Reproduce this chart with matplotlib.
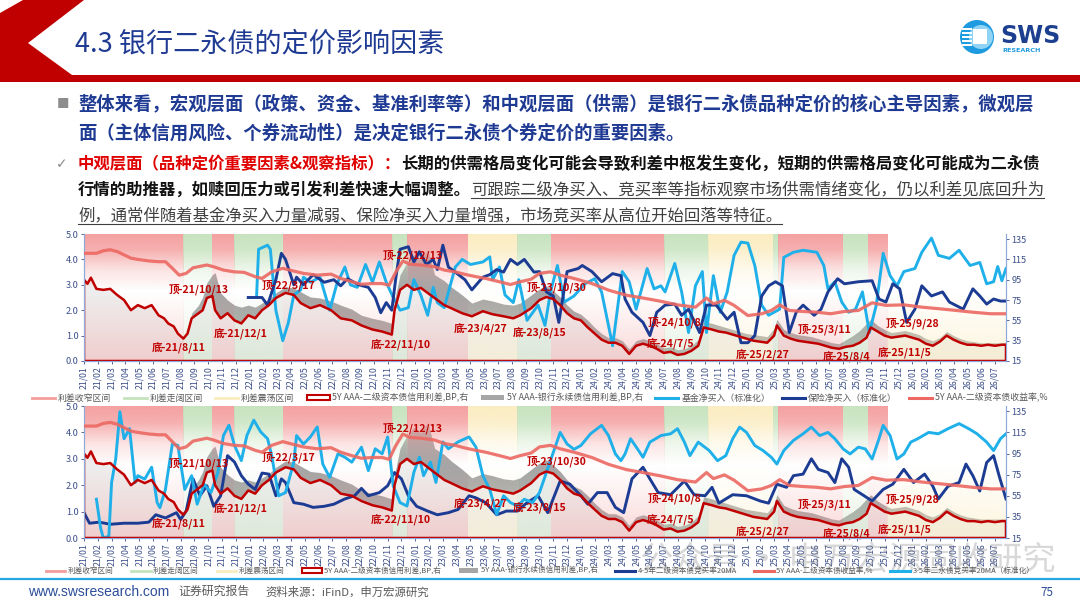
import numpy as np
import matplotlib
matplotlib.use("Agg")
import matplotlib.pyplot as plt
from matplotlib.patches import Polygon, Patch, Circle, Rectangle
from matplotlib.lines import Line2D
from matplotlib.colors import to_rgb

plt.rcParams['font.family'] = ['Noto Sans CJK SC', 'DejaVu Sans']

# ---------------- data (x = months since 2021-01) ----------------
month_labels = [f"{y}/{m:02d}" for y in range(21, 27) for m in range(1, 13)][:67]

# 5Y AAA 二级资本债收益率, %
yield_m = [0, 0.9, 1.4, 1.9, 2.4, 2.9, 3.4, 3.9, 4.7, 5.4, 5.9, 6.4, 6.9, 7.4, 7.9, 8.9, 9.4, 10.1, 10.9, 11.6,
           12.4, 12.9, 13.6, 14.4, 15.2, 15.9, 16.9, 17.9, 18.6, 19.4, 20.1, 20.9, 21.6, 22.1, 22.6, 23.1, 23.6,
           24.4, 25.4, 26.1, 26.9, 27.6, 28.4, 29.1, 30.1, 30.9, 31.6, 32.4, 33.0, 33.8, 34.5, 35.5, 36.8, 38.0,
           39.3, 40.5, 41.8, 43.0, 44.3, 45.1, 45.6, 46.4, 47.1, 48.1, 49.1, 49.8, 50.4, 51.1, 52.1, 53.1, 54.1,
           55.1, 56.1, 57.1, 58.1, 59.4, 60.7, 61.9, 63.2, 64.4, 65.7, 66.8]
yield_v = [4.24, 4.24, 4.34, 4.38, 4.31, 4.18, 4.05, 4.0, 3.94, 3.91, 3.91, 3.65, 3.38, 3.45, 3.67, 3.78, 3.71,
           3.58, 3.51, 3.49, 3.32, 3.25, 3.51, 3.65, 3.54, 3.45, 3.38, 3.42, 3.25, 3.12, 3.02, 3.05, 3.05, 2.98,
           3.51, 3.94, 3.81, 3.78, 3.71, 3.58, 3.51, 3.41, 3.32, 3.25, 3.12, 3.01, 3.12, 3.22, 3.45, 3.51, 3.38,
           3.25, 3.05, 2.79, 2.59, 2.48, 2.35, 2.21, 2.12, 2.48, 2.25, 2.39, 2.19, 1.79, 1.86, 1.99, 2.21, 1.99,
           1.95, 1.92, 1.86, 1.95, 1.99, 2.29, 2.19, 2.21, 2.12, 2.06, 1.99, 1.92, 1.86, 1.86]

# credit spreads, BP (right axis)
spread_m = [0, 0.25, 0.5, 0.9, 1.4, 1.9, 2.4, 2.9, 3.4, 3.9, 4.4, 4.9, 5.4, 5.8, 6.1, 6.5, 6.8, 7.2, 7.5, 7.8,
            8.3, 8.6, 8.9, 9.3, 9.5, 9.9, 10.4, 10.9, 11.4, 11.9, 12.4, 12.9, 13.4, 13.9, 14.6, 15.2, 15.7, 16.4,
            17.1, 17.9, 18.6, 19.4, 20.1, 20.9, 21.6, 22.3, 22.5, 22.9, 23.4, 23.9, 24.4, 24.9, 25.4, 26.1, 26.6,
            27.4, 28.1, 28.9, 29.6, 30.4, 31.1, 31.6, 32.4, 33.0, 33.5, 34.0, 34.5, 35.0, 35.5, 36.0, 36.5, 37.0,
            37.5, 38.0, 38.5, 39.0, 39.5, 40.0, 40.5, 41.0, 41.5, 42.0, 42.5, 43.0, 43.5, 44.0, 44.5, 44.9, 45.5,
            46.0, 46.5, 47.0, 47.5, 48.0, 48.5, 49.0, 49.5, 50.0, 50.2, 50.7, 51.2, 51.7, 52.2, 52.7, 53.2, 53.7,
            54.2, 54.7, 55.2, 55.7, 56.2, 56.7, 57.0, 57.5, 58.0, 58.5, 59.0, 59.5, 60.0, 60.5, 61.0, 61.5, 62.0,
            62.5, 63.0, 63.5, 64.0, 64.5, 65.0, 65.5, 66.0, 66.5, 66.8]
tier2_bp = [95, 91, 97, 86, 85, 86, 80, 75, 65, 70, 67, 70, 60, 57, 52, 49, 42, 37, 42, 57,
            62, 65, 77, 79, 65, 57, 62, 55, 52, 60, 57, 65, 70, 77, 82, 80, 72, 67, 70, 65,
            57, 55, 50, 46, 44, 41, 65, 85, 90, 85, 87, 82, 77, 70, 67, 62, 59, 64, 61, 59,
            57, 60, 67, 75, 78, 76, 70, 62, 57, 55, 48, 42, 36, 33, 33, 30, 22, 30, 32, 30,
            27, 23, 24, 21, 22, 25, 30, 48, 46, 44, 43, 41, 39, 37, 35, 34, 33, 40, 50, 40,
            37, 35, 34, 33, 32, 30, 28, 27, 29, 30, 33, 38, 48, 44, 40, 38, 39, 40, 38, 36,
            32, 30, 34, 40, 36, 33, 31, 31, 30, 31, 30, 31, 31]
perp_bp = [95, 91, 97, 86, 85, 86, 80, 75, 65, 70, 67, 70, 60, 57, 52, 49, 42, 37, 42, 62,
           70, 78, 92, 100, 102, 82, 75, 70, 68, 70, 68, 72, 76, 82, 88, 87, 83, 78, 77, 74,
           70, 66, 60, 57, 55, 52, 75, 100, 112, 120, 115, 125, 100, 94, 88, 80, 72, 76, 74, 71,
           70, 72, 80, 86, 89, 84, 78, 70, 64, 61, 55, 48, 42, 38, 38, 35, 27, 35, 37, 35,
           32, 28, 29, 26, 27, 30, 36, 54, 52, 50, 48, 46, 44, 42, 41, 40, 39, 47, 56, 46,
           43, 41, 40, 39, 37, 35, 33, 32, 36, 40, 45, 52, 56, 50, 46, 43, 44, 45, 43, 41,
           37, 35, 38, 44, 40, 37, 35, 34, 33, 33, 33, 33, 33]

# top chart: 基金净买入 / 保险净买入 (标准化)
fund_m = [12.5, 12.65, 13.3, 13.5, 13.9, 14.4, 14.8, 15.2, 15.7, 15.9, 16.4, 17.1, 17.8, 18.3, 18.9, 19.3,
          19.8, 20.4, 20.9, 21.4, 21.9, 22.4, 22.9, 23.5, 23.9, 24.4, 24.9, 25.3, 25.6, 26.1, 26.9, 27.4,
          28.0, 28.9, 29.4, 29.6, 30.1, 30.5, 31.1, 31.5, 32.1, 32.9,
          33.4, 33.8, 34.3, 34.8, 35.5, 36.3, 37.0, 37.5, 38.3, 39.0, 39.5, 40.0, 40.8, 41.3, 41.8, 42.1,
          42.8, 43.3, 43.8, 44.3, 44.8, 45.1, 45.6, 46.1, 46.6, 47.1, 47.6, 48.1, 48.6, 49.1, 49.6, 50.4,
          50.7, 51.4, 52.1, 53.1, 53.6, 53.9, 54.4, 54.9, 55.4, 55.9, 56.4, 56.9, 57.4, 57.9, 58.4, 58.9,
          59.4, 60.2, 60.7, 61.4, 61.9, 62.7, 63.4, 64.2, 64.9, 65.4, 65.9, 66.2, 66.5, 66.8]
fund_v = [77.5, 125, 129, 125, 65, 35, 52.5, 80, 85, 97.5, 92.5, 97.5, 65, 90, 107.5, 90,
          87.5, 110, 92.5, 112.5, 92.5, 77.5, 65, 67.5, 95, 80, 60, 87.5, 72.5, 67.5, 107.5, 115,
          110, 112.5, 117.5, 95, 107.5, 80, 72.5, 95, 55, 70,
          50, 83, 109, 73, 79, 91, 96, 83, 30, 103, 93, 66, 106, 86, 89, 83,
          111, 83, 43, 89, 103, 43, 99, 63, 83, 119, 132, 131, 109, 70, 60, 66,
          117, 122, 124, 122, 109, 86, 93, 73, 63, 66, 83, 43, 70, 121, 99, 89,
          103, 106, 122, 136, 119, 116, 124, 109, 112, 91, 93, 108, 94, 106]
ins_m = [11.9, 12.9, 13.3, 13.9, 14.3, 14.6, 15.2, 15.4, 15.9, 16.6, 17.4, 18.1, 18.6, 19.1, 19.9, 20.6,
         21.1, 21.5, 21.9, 22.3, 22.6, 22.9, 23.5, 23.9, 24.3, 24.8, 25.3, 25.6, 26.0, 26.4, 26.9, 27.6,
         28.1, 28.9, 29.4, 29.9, 30.4, 30.9, 31.4, 31.9, 32.6,
         33.0, 33.5, 34.0, 34.4, 35.0, 35.8, 36.1, 36.8, 37.5, 38.3, 38.9, 39.2, 39.7, 40.5, 41.0, 41.5,
         42.1, 42.8, 43.3, 43.8, 44.6, 45.1, 45.8, 46.6, 47.1, 47.6, 48.1, 48.6, 49.1, 49.6, 50.1, 50.6,
         51.1, 51.6, 52.1, 52.9, 53.4, 53.9, 54.6, 55.1, 56.1, 57.1, 57.6, 58.1, 58.6, 59.1, 59.6, 60.2,
         60.7, 61.4, 62.2, 62.7, 63.7, 64.4, 64.9, 65.4, 65.9, 66.4, 66.8]
ins_v = [77.5, 77.5, 70, 95, 121, 115, 90, 97.5, 90, 100, 92.5, 95, 89, 96, 90, 87.5,
         77.5, 62.5, 72.5, 65, 97.5, 125, 127.5, 112.5, 122.5, 110, 115, 105, 129, 107.5, 102.5, 95,
         85, 97.5, 100, 105, 102.5, 115, 110, 115, 102.5,
         103, 83, 79, 53, 103, 106, 109, 103, 93, 101, 99, 76, 63, 53, 40, 63,
         70, 71, 60, 66, 43, 70, 70, 56, 63, 33, 33, 40, 79, 89, 93, 89,
         43, 63, 70, 60, 66, 83, 96, 91, 93, 94, 76, 73, 91, 86, 53, 66,
         89, 79, 83, 73, 66, 86, 79, 71, 76, 74, 74]

# bottom chart: 竞买率 20MA
bid45_m = [0.0, 0.4, 1.1, 1.9, 2.9, 3.9, 4.7, 5.2, 5.9, 6.7, 7.0, 7.4, 7.9, 8.4, 8.9, 9.4, 9.9, 10.4,
           10.9, 11.4, 11.9, 12.4, 12.9, 13.4, 13.9, 14.3, 14.6, 15.2, 15.9, 16.6, 17.4, 18.1, 18.9, 19.6,
           20.1, 20.6, 21.4, 22.0, 22.5, 23.0, 23.5, 24.1, 24.9, 25.6, 26.4, 27.1, 27.9, 28.4, 29.1, 29.9,
           30.6, 31.4, 32.1, 32.9,
           33.6, 34.5, 35.2, 36.0, 36.5, 37.2, 37.9, 38.5, 39.1, 39.7, 40.5, 41.0, 41.6, 42.5, 43.5, 44.2,
           45.0, 45.5, 46.0, 47.0, 48.0, 49.0, 49.6, 50.2, 50.9, 51.4, 52.1, 52.7, 53.2, 53.9, 54.4, 54.9,
           55.4, 55.8, 56.4, 57.1, 57.9, 58.6, 59.4, 60.1, 60.9, 61.5, 61.9, 62.6, 63.4, 63.9, 64.4, 64.9,
           65.4, 65.9, 66.3, 66.8]
bid45_v = [39, 29, 30, 28, 29, 29, 30, 37, 34, 39, 32.5, 40.5, 71, 55, 64.5, 45, 55, 93,
           87, 74, 66, 61, 76.5, 75.5, 55, 71, 67.5, 48.5, 47, 44, 45, 47, 52, 55,
           62, 55, 58, 64.5, 77, 71, 55, 45, 40.5, 37, 39, 42, 55, 53, 48.5, 37,
           40.5, 40.5, 48.5, 55,
           39, 69, 66, 55, 47, 58, 58, 44, 39, 71, 82, 71, 58, 56, 69, 56,
           55, 63, 48, 56, 55, 50, 48, 66, 63, 74, 75.5, 90, 80, 77, 67.5, 90,
           82, 61, 56, 50, 61, 66, 80, 67.5, 75.5, 64, 52, 64, 67.5, 85, 74, 59.5,
           86.5, 93, 74, 52]
bid35_m = [0.9, 1.2, 1.4, 1.8, 2.0, 2.3, 2.6, 2.9, 3.3, 3.7, 3.9, 4.4, 4.9, 5.3, 5.5, 5.9, 6.4, 6.8,
           7.3, 7.8, 8.2, 8.7, 9.2, 9.7, 10.1, 10.5, 10.9, 11.4, 11.8, 12.3, 12.8, 13.3, 13.6, 14.1, 14.6,
           15.2, 15.4, 15.9, 16.4, 16.9, 17.3, 17.8, 18.4, 18.9, 19.4, 20.1, 20.6, 21.1, 21.6, 22.0, 22.4,
           22.9, 23.4, 23.9, 24.3, 24.6, 25.1, 25.5, 26.0, 26.4, 27.1, 27.9, 28.4, 28.9, 29.4, 29.9, 30.4,
           30.9, 31.4, 31.9, 32.5, 33.0,
           33.5, 34.0, 34.5, 35.0, 35.5, 36.0, 36.7, 37.5, 38.0, 38.5, 38.9, 39.2, 39.6, 40.1, 40.5, 41.0,
           41.8, 42.5, 43.0, 43.5, 43.9, 44.5, 45.3, 45.9, 46.5, 47.0, 47.5, 48.0, 48.6, 49.2, 49.8, 50.2,
           50.7, 51.4, 52.1, 52.7, 53.3, 53.9, 54.4, 55.0, 55.5, 56.1, 56.6, 57.1, 57.6, 57.9, 58.4, 58.9,
           59.4, 59.9, 60.4, 61.2, 61.9, 62.6, 63.4, 64.1, 64.7, 65.4, 65.9, 66.4, 66.8]
bid35_v = [51.7, 24.6, 15, 16.6, 67.6, 90, 134.6, 109, 118.6, 67.6, 74, 70.8, 82, 48.5, 43.7, 61, 104, 102.7,
           61, 74, 47, 66, 58, 77, 112, 121.8, 102.7, 88.3, 112, 126.6, 115.5, 109, 93, 55, 58,
           86.8, 112, 104, 110.7, 120.2, 85, 72.4, 94.7, 91.5, 86.8, 101, 78.8, 99.5, 94.7, 110.7, 64.5,
           48.5, 45.3, 77.2, 91.5, 74, 86.8, 67.6, 106, 99.5, 106, 110.7, 101, 74, 61, 37.3, 55,
           48.5, 45.3, 51.7, 48.5, 58,
           77, 96, 115, 104, 99, 102.6, 113.7, 121.7, 112, 94.6, 88.2, 94.6, 109, 99.4, 91.4, 105.8,
           112, 113.7, 118.5, 105.8, 93, 105.8, 97.8, 88.2, 93, 109, 120, 115, 102.6, 97.8, 91.4, 85,
           97.8, 107.4, 113.7, 120, 112, 115, 109, 99.4, 94.6, 101, 99.4, 89.8, 109, 121.7, 112, 89.8,
           94.6, 105.8, 109, 115, 113.7, 118.5, 123.3, 118.5, 113.7, 105.8, 97.8, 109, 113.7]

# spread regimes: 收窄 / 走阔 / 震荡
band_start = [0, 7.2, 9.3, 10.9, 14.4, 22.3, 23.4, 27.8, 31.4, 33.8, 42.0, 45.2, 49.9, 50.3, 55.0, 56.8, 58.2]
band_end = [7.2, 9.3, 10.9, 14.4, 22.3, 23.4, 27.8, 31.4, 33.8, 42.0, 45.2, 49.9, 50.3, 55.0, 56.8, 58.2, 66.8]
band_kind = ['narrow', 'widen', 'narrow', 'widen', 'narrow', 'widen', 'narrow', 'range', 'widen',
             'narrow', 'widen', 'range', 'widen', 'narrow', 'widen', 'narrow', 'range_low']

top_notes = [("顶-21/10/13", 6.15, 85.5), ("底-21/8/11", 4.9, 27.6), ("底-21/12/1", 9.4, 41),
             ("顶-22/3/17", 12.9, 90), ("底-22/11/10", 20.8, 30.6), ("顶-22/12/13", 21.6, 119),
             ("底-23/4/27", 26.8, 46), ("底-23/8/15", 31.1, 42.5), ("顶-23/10/30", 32.1, 88),
             ("顶-24/10/8", 40.8, 53), ("底-24/7/5", 40.8, 31.6), ("底-25/2/27", 47.2, 20.6),
             ("顶-25/3/11", 51.7, 46.5), ("底-25/8/4", 53.5, 19), ("顶-25/9/28", 58.1, 52),
             ("底-25/11/5", 57.5, 22.3)]
bot_notes = [("顶-21/10/13", 6.15, 85.8), ("底-21/8/11", 4.9, 28.4), ("底-21/12/1", 9.4, 42),
             ("顶-22/3/17", 12.9, 91), ("底-22/11/10", 20.8, 31.6), ("顶-22/12/13", 21.6, 118.6),
             ("底-23/4/27", 26.8, 47), ("底-23/8/15", 31.1, 43), ("顶-23/10/30", 32.1, 88),
             ("顶-24/10/8", 40.8, 53), ("底-24/7/5", 40.8, 31.6), ("底-25/2/27", 47.2, 20.6),
             ("顶-25/3/11", 51.7, 46.5), ("底-25/8/4", 53.5, 19), ("顶-25/9/28", 58.1, 52),
             ("底-25/11/5", 57.5, 22.3)]

# ---------------- styles ----------------
C_PINK, C_GREEN, C_YELLOW = '#f49c9c', '#c4e2bb', '#fbecbf'
C_RED, C_GRAY = '#c00000', '#a6a6a6'
C_LBLUE, C_DBLUE, C_YIELD = '#1fb0ea', '#1c3c94', '#ec6862'
C_TICK = '#3c4f8a'
band_style = {'narrow': (C_PINK, 0.95, 0.40), 'widen': (C_GREEN, 0.95, 0.40),
              'range': (C_YELLOW, 0.95, 0.45), 'range_low': (C_YELLOW, 0.0, 0.55)}

W, H = 1080, 608
fig = plt.figure(figsize=(10.8, 6.08), dpi=100)
bg = fig.add_axes([0, 0, 1, 1])
bg.set_xlim(0, W)
bg.set_ylim(H, 0)
bg.axis('off')

# header
bg.add_patch(Polygon([(23, 0), (84, 0), (28, 43), (72, 75), (W, 75), (W, 82), (0, 82), (0, 13)],
                     closed=True, color=C_RED, lw=0))
bg.text(75, 44, "4.3 银行二永债的定价影响因素", fontsize=19.5, fontweight='medium', color='#1f3a93',
        va='center', ha='left')
bg.add_patch(Circle((977, 37), 17, color='#1e9be0', lw=0))
bg.add_patch(Circle((981, 37), 12, color='#8fd3f5', lw=0))
bg.add_patch(Rectangle((973, 29), 14, 15, color='white', lw=0))
for k in range(5):
    bg.add_patch(Rectangle((962, 28 + k * 4), 10, 1.6, color='white', lw=0))
bg.text(1000, 36, "SWS", fontsize=17, fontweight='bold', color='#1d3f8f', va='center', ha='left',
        family='DejaVu Sans')
bg.text(1002, 51, "RESEARCH", fontsize=4.6, fontweight='bold', color='#1e9be0', va='center', ha='left',
        family='DejaVu Sans')


def chain(parts, x, y, size):
    out = []
    prev = None
    for s, color, weight in parts:
        if prev is None:
            t = bg.text(x, y, s, color=color, fontsize=size, fontweight=weight, va='center', ha='left')
        else:
            t = bg.annotate(s, xy=(1, 0.5), xycoords=prev, color=color, fontsize=size,
                            fontweight=weight, va='center', ha='left')
        out.append(t)
        prev = t
    return out


BLUE_TXT = '#1f3a93'
bg.text(57, 104, "■", fontsize=9, color='#8c8c8c', va='center', ha='left')
chain([("整体来看，宏观层面（政策、资金、基准利率等）和中观层面（供需）是银行二永债品种定价的核心主导因素，微观层",
        BLUE_TXT, 'bold')], 78, 104, 13.2)
chain([("面（主体信用风险、个券流动性）是决定银行二永债个券定价的重要因素。", BLUE_TXT, 'bold')], 78, 133, 13.2)
bg.text(56, 164, "✓", fontsize=10, color='#8c8c8c', va='center', ha='left', family='DejaVu Sans')
chain([("中观层面（品种定价重要因素&观察指标）：", '#e00000', 'bold'),
       ("长期的供需格局变化可能会导致利差中枢发生变化，短期的供需格局变化可能成为二永债", '#111111', 'bold')],
      78, 164, 11.8)
line2 = chain([("行情的助推器，如赎回压力或引发利差快速大幅调整。", '#111111', 'bold'),
               ("可跟踪二级净买入、竞买率等指标观察市场供需情绪变化，仍以利差见底回升为", '#404040', 'normal')],
              78, 190, 11.8)
line3 = chain([("例，通常伴随着基金净买入力量减弱、保险净买入力量增强，市场竞买率从高位开始回落等特征。",
                '#404040', 'normal')], 78, 216, 11.8)


def panel(y_top, y_bot, series, notes):
    ax = fig.add_axes([84 / W, 1 - y_bot / H, (1006 - 84) / W, (y_bot - y_top) / H])
    ax2 = ax.twinx()
    ax.set_zorder(ax2.get_zorder() + 1)
    ax.patch.set_visible(False)

    ax2.fill_between(spread_m, 15, perp_bp, color=C_GRAY, lw=0, zorder=1)
    ax2.fill_between(spread_m, 15, tier2_bp, color='#eeeeee', lw=0, zorder=1.5)

    t = np.linspace(0, 1, 200)
    for s, e, kind in zip(band_start, band_end, band_kind):
        col, top, bot = band_style[kind]
        alpha = np.interp(t, [0, 0.3, 0.55, 0.72, 0.88, 1.0], [bot, bot * 0.45, 0, top * 0.3, top * 0.85, top])
        img = np.zeros((len(t), 1, 4))
        img[..., :3] = to_rgb(col)
        img[:, 0, 3] = alpha
        ax2.imshow(img, extent=[s, e, 15, 140], aspect='auto', origin='lower', zorder=2,
                   interpolation='bilinear')

    for xs, ys, col in series:
        ax2.plot(xs, ys, color=col, lw=2.1, zorder=4, solid_joinstyle='round')
    ax2.fill_between(spread_m, 15, tier2_bp, facecolor='none', edgecolor=C_RED, lw=1.8, zorder=5)
    ax.plot(yield_m, yield_v, color=C_YIELD, lw=2.3, alpha=0.9, zorder=6)

    for label, xm, yv in notes:
        ax2.text(xm, yv, label, color=C_RED, fontsize=7.6, fontweight='bold', ha='left', va='center',
                 zorder=7)

    ax.set_xlim(0, 66.8)
    ax.set_ylim(0, 5)
    ax2.set_ylim(15, 140)
    ax.set_yticks(np.arange(0, 5.01, 1.0))
    ax.set_yticklabels([f"{v:.1f}" for v in np.arange(0, 5.01, 1.0)])
    ax2.set_yticks(range(15, 136, 20))
    ax.set_xticks(range(len(month_labels)))
    ax.set_xticklabels(month_labels, rotation=90)
    for a in (ax, ax2):
        a.tick_params(labelsize=6.6, colors=C_TICK, length=2.5, width=0.6, pad=1.5)
        a.spines['top'].set_visible(False)
        for sp in ('left', 'right', 'bottom'):
            a.spines[sp].set_color('#8eaadb')
    ax.tick_params(axis='x', labelsize=6.3, pad=1)
    return ax, ax2


panel(234, 361, [(fund_m, fund_v, C_LBLUE), (ins_m, ins_v, C_DBLUE)], top_notes)
panel(406, 538, [(bid45_m, bid45_v, C_DBLUE), (bid35_m, bid35_v, C_LBLUE)], bot_notes)

band_handles = [Line2D([], [], color=C_PINK, lw=2.0), Line2D([], [], color=C_GREEN, lw=2.0),
                Line2D([], [], color=C_YELLOW, lw=2.0),
                Patch(facecolor='white', edgecolor=C_RED, lw=1.5), Patch(facecolor=C_GRAY, lw=0)]
band_labels = ["利差收窄区间", "利差走阔区间", "利差震荡区间", "5Y AAA-二级资本债信用利差,BP,右",
               "5Y AAA-银行永续债信用利差,BP,右"]
top_handles = band_handles + [Line2D([], [], color=C_LBLUE, lw=2.2), Line2D([], [], color=C_DBLUE, lw=2.2),
                              Line2D([], [], color=C_YIELD, lw=2.2)]
top_labels = band_labels + ["基金净买入（标准化）", "保险净买入（标准化）", "5Y AAA-二级资本债收益率,%"]
bot_handles = band_handles + [Line2D([], [], color=C_DBLUE, lw=2.2), Line2D([], [], color=C_YIELD, lw=2.2),
                              Line2D([], [], color=C_LBLUE, lw=2.2)]
bot_labels = band_labels + ["4-5年二级资本债竞买率20MA", "5Y AAA-二级资本债收益率,%", "3-5年二永债竞买率20MA（标准化）"]

for hs, ls, yc, fs, cs in [(top_handles, top_labels, 398, 6.4, 1.4), (bot_handles, bot_labels, 571, 5.5, 2.3)]:
    fig.legend(hs, ls, loc='center', bbox_to_anchor=(540 / W, 1 - yc / H), ncol=8, frameon=False,
               fontsize=fs, handlelength=2.6, handleheight=0.6, handletextpad=0.3, columnspacing=cs,
               labelcolor='#595959', borderaxespad=0, borderpad=0)

# footer
bg.plot([0, W], [579, 579], color='#25a8e0', lw=1.6)
bg.text(28, 592, "www.swsresearch.com", fontsize=10, color='#2b4d9a', va='center', ha='left',
        family='Liberation Sans')
bg.text(178, 591, "证券研究报告", fontsize=8.6, color='#595959', va='center', ha='left')
bg.text(265, 592, "资料来源：iFinD，申万宏源研究", fontsize=8.2, color='#595959', va='center', ha='left')
bg.text(1040, 592, "75", fontsize=8.4, color='#2b4d9a', va='center', ha='left')
fig.text(640 / W, 1 - 560 / H, "公众号 · 申万宏源固收研究", fontsize=24, color='#7f7f7f', alpha=0.3,
         va='center', ha='left')

# underline the regular-weight sentences
fig.canvas.draw()
renderer = fig.canvas.get_renderer()
inv = bg.transData.inverted()
for t in (line2[1], line3[0]):
    bb = t.get_window_extent(renderer)
    (x0, y0), (x1, y1) = inv.transform([[bb.x0, bb.y0], [bb.x1, bb.y1]])
    bg.plot([x0, x1], [max(y0, y1) - 1, max(y0, y1) - 1], color='#404040', lw=0.8)

fig.savefig("out.png", dpi=100)
